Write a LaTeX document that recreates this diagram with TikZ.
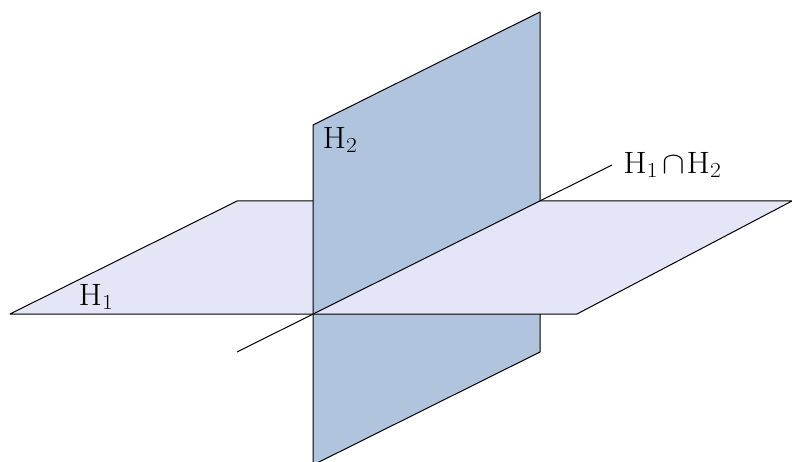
\documentclass[tikz,border=0pt]{standalone}
\usepackage{amsmath}
\usepackage{graphicx}
\tikzset{
  plane/.style={draw=black,line width=1pt,line join=round},
  hone/.style={plane,fill=lilac},
  htwo/.style={plane,fill=steel},
  lab/.style={inner sep=0pt,font=\fontsize{25}{30}\selectfont},
  seam/.style={fill=lilac,draw=none}
}
\definecolor{lilac}{RGB}{228,229,247}
\definecolor{steel}{RGB}{176,196,222}
\newcommand{\labtext}[1]{\scalebox{1.36}[1.24]{#1}}
\begin{document}
\begin{tikzpicture}[x=1pt,y=-1pt]
\useasboundingbox (0,0) rectangle (792,462);
\coordinate (O) at (313,314);
\coordinate (LF) at (10,314);
\coordinate (LB) at (237,201);
\coordinate (TB) at (313,201);
\coordinate (RB) at (792,201);
\coordinate (RF) at (577,314);
\coordinate (MB) at (540,201);
\coordinate (MF) at (540,314);
\coordinate (A) at (313,125);
\coordinate (B) at (540,12);
\coordinate (C) at (540,352);
\coordinate (D) at (313,465);
\coordinate (E) at (237,352);
\coordinate (F) at (612,165);
% rear half of H1
\fill[seam] (LF) -- (LB) -- (TB) -- (O) -- cycle;
\draw[plane] (O) -- (LF) -- (LB) -- (TB);
% H2
\draw[htwo] (A) -- (B) -- (C) -- (D) -- cycle;
% front half of H1
\fill[seam] (O) -- (MB) -- (RB) -- (RF) -- cycle;
\draw[plane] (MB) -- (RB) -- (RF) -- (O);
% intersection line
\draw[line width=1pt] (E) -- (F);
\node[lab] (h1) at (96,297) {\labtext{$\mathrm{H}_1$}};
\node[lab] (h2) at (340,140) {\labtext{$\mathrm{H}_2$}};
\node[lab] (h12) at (672.5,165) {\labtext{$\mathrm{H}_1{\mskip2mu\cap\mskip1mu}\mathrm{H}_2$}};
\end{tikzpicture}
\end{document}
